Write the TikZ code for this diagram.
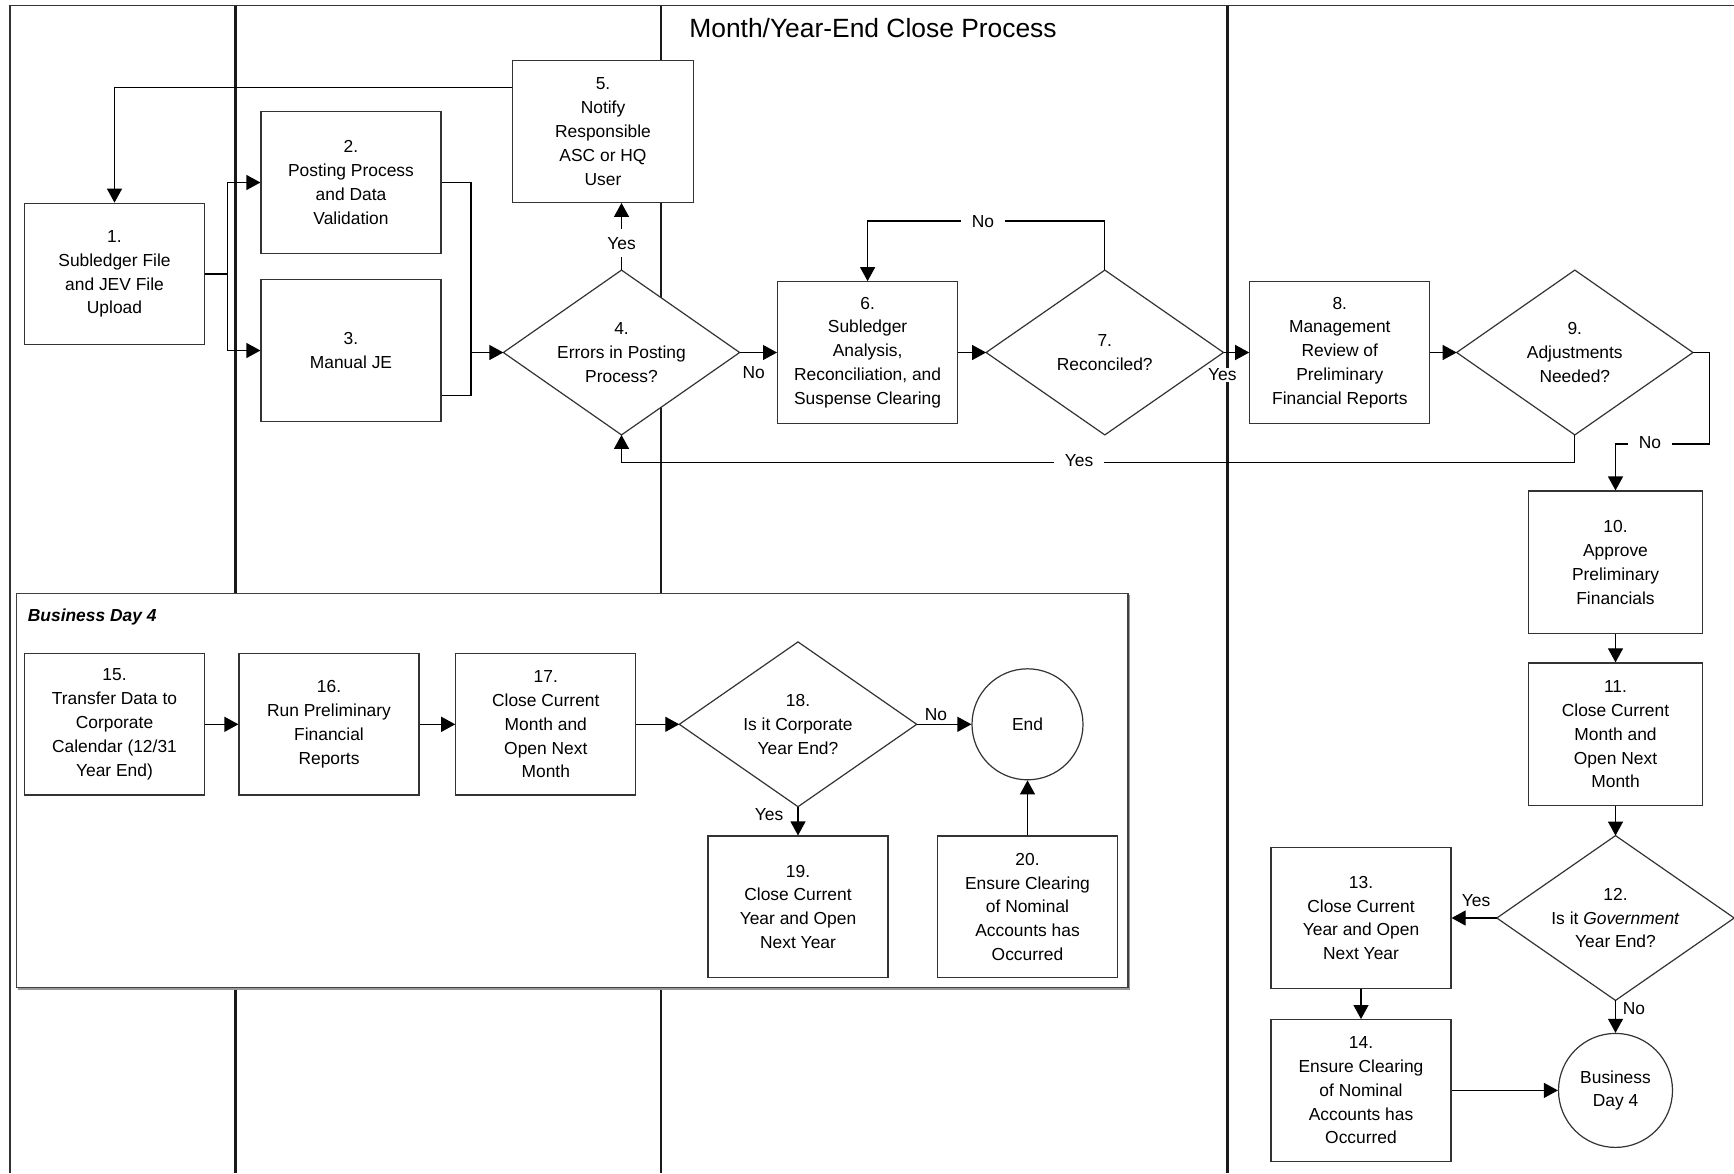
\documentclass[tikz,border=0pt]{standalone}
\usepackage{fontspec}
\setmainfont{Liberation Sans}
\usetikzlibrary{arrows.meta}
\begin{document}
\begin{tikzpicture}[x=0.5pt,y=-0.5pt,
  txt/.style={font=\fontsize{8.7pt}{11.9pt}\selectfont, align=center},
  box/.style={txt, draw=black!80, line width=0.6pt, fill=white, minimum width=90pt, minimum height=70.75pt, inner sep=0pt},
  narrowbox/.style={box, minimum width=87.35pt, minimum height=71.35pt},
  dia/.style={minimum width=117.75pt, minimum height=82pt, inner sep=0pt},
  diashape/.style={draw=black!80, line width=0.6pt, fill=white},
  circ/.style={txt, circle, draw=black!80, line width=0.6pt, fill=white, inner sep=0pt},
  arr/.style={line width=0.6pt, -{Triangle[length=7pt,width=7.5pt]}},
  ln/.style={line width=0.6pt},
  lbl/.style={txt, fill=white, inner xsep=5.5pt, inner ysep=1pt},
  lane/.style={line width=1.1pt, black!90}]

\useasboundingbox (0,0) rectangle (1734,1173);

% frame and lanes
\draw[line width=0.9pt, black!80] (10,1173) -- (10,5.5) -- (1734,5.5);
\draw[lane] (235.5,5.5) -- (235.5,1173);
\draw[lane] (661,5.5) -- (661,1173);
\draw[lane] (1227.5,5.5) -- (1227.5,1173);

\node[font=\fontsize{13.2pt}{16pt}\selectfont] (title) at (873,28.5) {Month/Year-End Close Process};

% Business Day 4 box
\fill[black!40] (18,595) rectangle (1129.5,989.5);
\draw[fill=white, draw=black!75, line width=0.6pt] (16.5,593.5) rectangle (1128,987.5);
\node[font=\fontsize{8.7pt}{11.9pt}\selectfont\bfseries\itshape, anchor=west, inner sep=0pt] (bdlabel) at (27.5,617.3) {Business Day 4};

% upper nodes
\node[box] (n1) at (114.5,274) {1.\\Subledger File\\and JEV File\\Upload};
\node[box] (n2) at (351,182.5) {2.\\Posting Process\\and Data\\Validation};
\node[box] (n3) at (351,350.5) {3.\\Manual JE};
\node[box, minimum width=90.5pt] (n5) at (603,131.6) {5.\\Notify\\Responsible\\ASC or HQ\\User};

\node[dia] (d4) at (621.5,352.5) {};
\draw[diashape] (d4.north) -- (d4.east) -- (d4.south) -- (d4.west) -- cycle;
\node[txt] (t4) at (d4) {4.\\Errors in Posting\\Process?};

\node[box] (n6) at (867.6,352.5) {6.\\Subledger\\Analysis,\\Reconciliation, and\\Suspense Clearing};

\node[dia, minimum width=118.3pt] (d7) at (1104.8,352.5) {};
\draw[diashape] (d7.north) -- (d7.east) -- (d7.south) -- (d7.west) -- cycle;
\node[txt] (t7) at (d7) {7.\\Reconciled?};

\node[box] (n8) at (1339.8,352.5) {8.\\Management\\Review of\\Preliminary\\Financial Reports};

\node[dia] (d9) at (1574.8,352.5) {};
\draw[diashape] (d9.north) -- (d9.east) -- (d9.south) -- (d9.west) -- cycle;
\node[txt] (t9) at (d9) {9.\\Adjustments\\Needed?};

\node[narrowbox] (n10) at (1615.5,562.4) {10.\\Approve\\Preliminary\\Financials};
\node[narrowbox] (n11) at (1615.5,734.3) {11.\\Close Current\\Month and\\Open Next\\Month};

\node[dia, minimum width=118.3pt] (d12) at (1615.5,918) {};
\draw[diashape] (d12.north) -- (d12.east) -- (d12.south) -- (d12.west) -- cycle;
\node[txt] (t12) at (d12) {12.\\Is it \textit{Government}\\Year End?};

\node[box] (n13) at (1361,918) {13.\\Close Current\\Year and Open\\Next Year};
\node[box] (n14) at (1361,1090.4) {14.\\Ensure Clearing\\of Nominal\\Accounts has\\Occurred};
\node[circ, minimum size=57pt] (bd4) at (1615.5,1090.4) {Business\\Day 4};

% lower nodes
\node[box] (n15) at (114.5,724.3) {15.\\Transfer Data to\\Corporate\\Calendar (12/31\\Year End)};
\node[box] (n16) at (329,724.3) {16.\\Run Preliminary\\Financial\\Reports};
\node[box] (n17) at (545.8,724.3) {17.\\Close Current\\Month and\\Open Next\\Month};

\node[dia, minimum width=118.3pt] (d18) at (798,724.3) {};
\draw[diashape] (d18.north) -- (d18.east) -- (d18.south) -- (d18.west) -- cycle;
\node[txt] (t18) at (d18) {18.\\Is it Corporate\\Year End?};

\node[circ, minimum size=55.5pt] (endc) at (1027.5,724.3) {End};
\node[box] (n19) at (798,906.8) {19.\\Close Current\\Year and Open\\Next Year};
\node[box] (n20) at (1027.5,906.8) {20.\\Ensure Clearing\\of Nominal\\Accounts has\\Occurred};

% connectors upper
\draw[arr] (n5.west |- 0,87.3) -| (n1.north);
\draw[arr] (n1.east) -- (227.3,274) |- (n2.west);
\draw[arr] (n1.east) -- (227.3,274) |- (n3.west);
\draw[arr] (n2.east) -| (471,352.5) -- (d4.west);
\draw[ln] (n3.east |- 0,395.3) -| (471,352.5);
\draw[arr] (d4.north) -- (d4.north |- n5.south) node[txt, fill=white, inner xsep=2pt, inner ysep=4pt, pos=0.4] (l1) {Yes};
\draw[arr] (d4.east) -- (n6.west);
\node[txt] (l2) at (753.7,372.7) {No};
\draw[arr] (n6.east) -- (d7.west);
\draw[arr] (d7.north) -- (d7.north |- 0,221) -| (n6.north);
\node[lbl] (l3) at (983,222) {No};
\draw[arr] (d7.east) -- (n8.west);
\node[txt, fill=white, inner sep=0.5pt] (l4) at (1222.4,375) {Yes};
\draw[arr] (n8.east) -- (d9.west);
\draw[arr] (d9.south) -- (d9.south |- 0,462.5) -| (d4.south);
\node[lbl] (l5) at (1079,461) {Yes};
\draw[arr] (d9.east) -- (1709.8,352.5) |- (1615.5,444) -- (n10.north);
\node[lbl] (l6) at (1650,443) {No};
\draw[arr] (n10.south) -- (n11.north);
\draw[arr] (n11.south) -- (d12.north);
\draw[arr] (d12.west) -- (n13.east);
\node[txt] (l7) at (1476,900.6) {Yes};
\draw[arr] (d12.south) -- (bd4.north);
\node[txt] (l8) at (1634,1008.7) {No};
\draw[arr] (n13.south) -- (n14.north);
\draw[arr] (n14.east) -- (bd4.west);

% connectors lower
\draw[arr] (n15.east) -- (n16.west);
\draw[arr] (n16.east) -- (n17.west);
\draw[arr] (n17.east) -- (d18.west);
\draw[arr] (d18.east) -- (endc.west);
\node[txt] (l9) at (936,714.3) {No};
\draw[arr] (d18.south) -- (n19.north);
\node[txt] (l10) at (769,814.3) {Yes};
\draw[arr] (n20.north) -- (endc.south);
\end{tikzpicture}
\end{document}
